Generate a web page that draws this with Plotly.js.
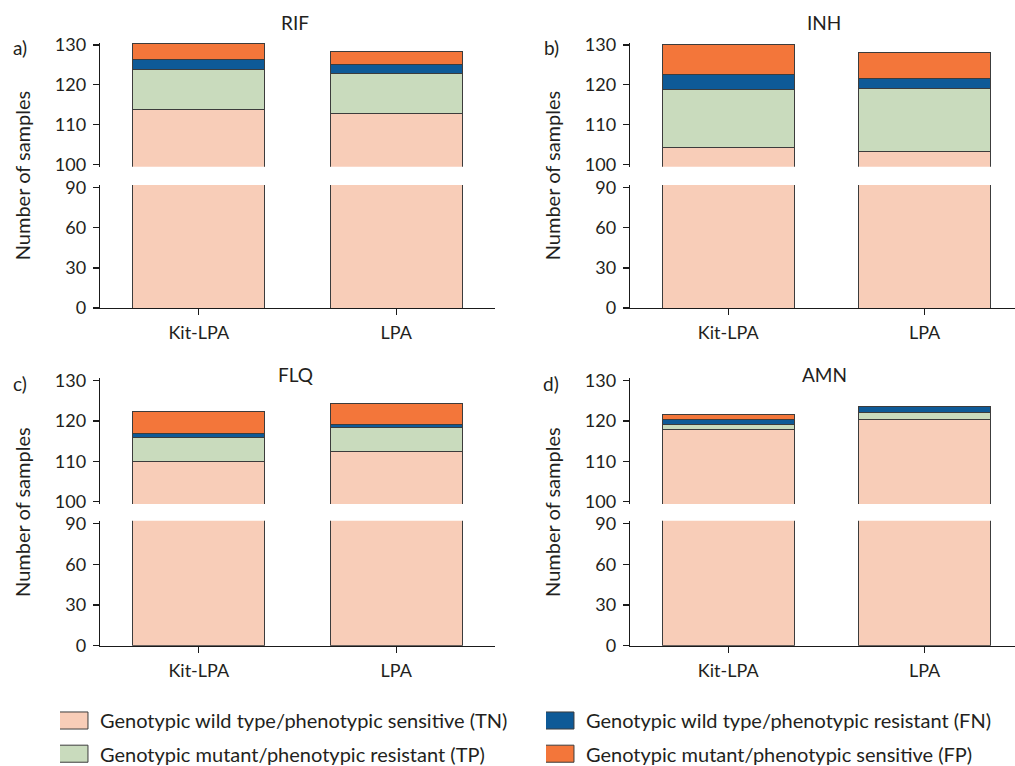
<!DOCTYPE html>
<html>
<head>
<meta charset="utf-8">
<script src="https://cdn.plot.ly/plotly-3.0.1.min.js"></script>
<style>
  html, body { margin: 0; padding: 0; background: #fff; }
  #chart { width: 1015px; height: 766px; }
  g.legendpoints path { transform: translate(11px, 0px) scale(2.83, 1.42) !important; vector-effect: non-scaling-stroke; }
</style>
</head>
<body>
<div id="chart"></div>
<script>
// ---------------- data ----------------
const categories = ['Kit-LPA', 'LPA'];
const drugs = ['RIF', 'INH', 'FLQ', 'AMN'];
const panelLabels = ['a)', 'b)', 'c)', 'd)'];
const upperTicks = [100, 110, 120, 130];
const lowerTicks = [0, 30, 60, 90];

const tnRIF = [113.8, 112.8];
const tpRIF = [10.1, 10.1];
const fnRIF = [2.4, 2.2];
const fpRIF = [4.1, 3.3];

const tnINH = [104.3, 103.3];
const tpINH = [14.6, 15.7];
const fnINH = [3.75, 2.7];
const fpINH = [7.4, 6.5];

const tnFLQ = [110.0, 112.5];
const tpFLQ = [5.8, 5.9];
const fnFLQ = [1.15, 0.75];
const fpFLQ = [5.3, 5.25];

const tnAMN = [117.8, 120.25];
const tpAMN = [1.4, 1.8];
const fnAMN = [1.25, 1.4];
const fpAMN = [1.15, 0];

const seriesNames = [
  'Genotypic wild type/phenotypic sensitive (TN)',
  'Genotypic mutant/phenotypic resistant (TP)',
  'Genotypic wild type/phenotypic resistant (FN)',
  'Genotypic mutant/phenotypic sensitive (FP)'
];

// ---------------- styling ----------------
const W = 1015, H = 766;
const colors = ['#F8CDB8', '#C9DBBD', '#0E5A97', '#F3763A'];
const outline = '#3c3c3c';
const FONT = 'Lato, "Source Sans Pro", "Noto Sans", sans-serif';
const txt = '#231f20';

const fx = p => p / W;
const fy = p => 1 - p / H;

// panel geometry in pixels
const panels = [
  { x0: 100, x1: 495, xr: [-0.5, 1.5], up: [42.6, 166.7], lo: [185.0, 308.0] },
  { x0: 630, x1: 1015, xr: [-0.5, 1.46], up: [42.6, 166.7], lo: [185.0, 308.0] },
  { x0: 100, x1: 495, xr: [-0.5, 1.5], up: [378.1, 504.1], lo: [520.8, 645.7] },
  { x0: 630, x1: 1015, xr: [-0.5, 1.46], up: [378.1, 504.1], lo: [520.8, 645.7] }
];

const dataSets = [
  [tnRIF, tpRIF, fnRIF, fpRIF],
  [tnINH, tpINH, fnINH, fpINH],
  [tnFLQ, tpFLQ, fnFLQ, fpFLQ],
  [tnAMN, tpAMN, fnAMN, fpAMN]
];

const traces = [];
const legendFont = { family: FONT, size: 20, color: txt };
const layout = {
  width: W, height: H,
  margin: { l: 0, r: 0, t: 0, b: 0, autoexpand: false },
  paper_bgcolor: '#fff', plot_bgcolor: 'rgba(0,0,0,0)',
  barmode: 'stack', bargap: 0.33,
  font: { family: FONT, size: 17, color: txt },
  showlegend: true,
  annotations: []
};

// one legend box per entry: TN, TP (left column), FN, FP (right column)
const legendIds = ['legend', 'legend2', 'legend3', 'legend4'];
const legendPos = [[60, 720.5], [60, 753.7], [546, 720.5], [546, 753.7]];
legendIds.forEach((id, k) => {
  layout[id] = {
    orientation: 'v', x: fx(legendPos[k][0]), y: fy(legendPos[k][1]),
    xanchor: 'left', yanchor: 'middle',
    font: legendFont, bgcolor: 'rgba(0,0,0,0)'
  };
});

const axisCommon = {
  showline: true, linecolor: '#1a1a1a', linewidth: 1.3,
  ticks: 'outside', ticklen: 6, tickwidth: 1.3, tickcolor: '#1a1a1a',
  ticklabelstandoff: 3,
  showgrid: false, zeroline: false, fixedrange: true,
  tickfont: { family: FONT, size: 18, color: txt }
};

panels.forEach((p, i) => {
  const xn = i + 1;
  const yLo = 2 * i + 1, yUp = 2 * i + 2;
  const xKey = xn === 1 ? 'xaxis' : 'xaxis' + xn;
  const xRef = xn === 1 ? 'x' : 'x' + xn;
  const yLoKey = yLo === 1 ? 'yaxis' : 'yaxis' + yLo;
  const yLoRef = yLo === 1 ? 'y' : 'y' + yLo;
  const yUpKey = 'yaxis' + yUp;
  const yUpRef = 'y' + yUp;

  layout[xKey] = Object.assign({}, axisCommon, {
    type: 'category', domain: [fx(p.x0), fx(p.x1)], range: p.xr,
    anchor: yLoRef, categoryorder: 'array', categoryarray: categories,
    ticklabelstandoff: 2
  });
  layout[yLoKey] = Object.assign({}, axisCommon, {
    domain: [fy(p.lo[1]), fy(p.lo[0])], range: [0, 92], anchor: xRef,
    tickmode: 'array', tickvals: lowerTicks
  });
  layout[yUpKey] = Object.assign({}, axisCommon, {
    domain: [fy(p.up[1]), fy(p.up[0])], range: [99.4, 130.6], anchor: xRef,
    tickmode: 'array', tickvals: upperTicks
  });

  const ds = dataSets[i];
  // lower (broken) part: TN only
  traces.push({
    type: 'bar', x: categories, y: ds[0], xaxis: xRef, yaxis: yLoRef,
    marker: { color: colors[0], line: { color: outline, width: 1 } },
    showlegend: false, hoverinfo: 'skip'
  });
  // upper part: full stack
  ds.forEach((vals, s) => {
    traces.push({
      type: 'bar', x: categories, y: vals, xaxis: xRef, yaxis: yUpRef,
      name: seriesNames[s],
      marker: { color: colors[s], line: { color: outline, width: 1 } },
      showlegend: i === 0, legend: legendIds[s],
      hoverinfo: 'skip'
    });
  });

  const topPx = i < 2 ? 22 : 375;
  layout.annotations.push({
    text: drugs[i], xref: 'paper', yref: 'paper', x: fx(i % 2 === 0 ? 295 : 824), y: fy(topPx),
    xanchor: 'center', yanchor: 'middle', showarrow: false,
    font: { family: FONT, size: 19, color: txt }
  });
  layout.annotations.push({
    text: panelLabels[i], xref: 'paper', yref: 'paper', x: fx(i % 2 === 0 ? 20 : 551), y: fy(i < 2 ? 47 : 384),
    xanchor: 'center', yanchor: 'middle', showarrow: false,
    font: { family: FONT, size: 19, color: txt }
  });
  layout.annotations.push({
    text: 'Number of samples', xref: 'paper', yref: 'paper', x: fx(i % 2 === 0 ? 22 : 552),
    y: fy((p.up[0] + p.lo[1]) / 2), textangle: -90,
    xanchor: 'center', yanchor: 'middle', showarrow: false,
    font: { family: FONT, size: 20, color: txt }
  });
});

Plotly.newPlot('chart', traces, layout, { displayModeBar: false, staticPlot: true });
</script>
</body>
</html>
